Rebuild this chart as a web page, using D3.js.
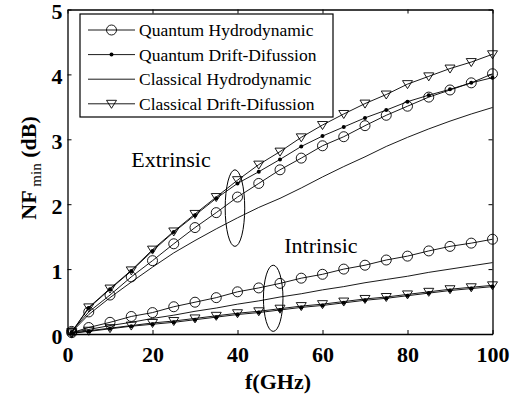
<!DOCTYPE html>
<html lang="en">
  <head>
    <meta charset="UTF-8" />
    <title>NFmin vs frequency</title>
    <script src="https://cdn.jsdelivr.net/npm/d3@7"></script>
    <style>
      body { margin: 0; background: #fff; }
      svg text { font-family: "Liberation Serif", "Times New Roman", "DejaVu Serif", serif !important; fill: #000; }
    </style>
  </head>
  <body>
    <script>
      // frequencies (GHz)
      const freq = [1, 5, 10, 15, 20, 25, 30, 35, 40, 45, 50, 55, 60, 65, 70, 75, 80, 85, 90, 95, 100];

      // extrinsic NFmin (dB)
      const qhExt  = [0.04, 0.34, 0.60, 0.88, 1.13, 1.39, 1.64, 1.87, 2.11, 2.32, 2.53, 2.71, 2.90, 3.04, 3.21, 3.37, 3.51, 3.65, 3.76, 3.87, 4.01];
      const qddExt = [0.03, 0.40, 0.69, 0.97, 1.28, 1.57, 1.83, 2.09, 2.32, 2.50, 2.69, 2.89, 3.05, 3.19, 3.33, 3.45, 3.58, 3.68, 3.77, 3.87, 3.95];
      const chExt  = [0.03, 0.30, 0.56, 0.80, 1.03, 1.25, 1.44, 1.62, 1.79, 1.95, 2.09, 2.25, 2.42, 2.58, 2.73, 2.89, 3.03, 3.16, 3.28, 3.39, 3.49];
      const cddExt = [0.03, 0.41, 0.70, 0.98, 1.30, 1.58, 1.85, 2.11, 2.37, 2.61, 2.81, 3.03, 3.22, 3.39, 3.55, 3.69, 3.85, 3.97, 4.09, 4.19, 4.31];

      // intrinsic NFmin (dB)
      const qhInt  = [0.02, 0.10, 0.18, 0.27, 0.33, 0.42, 0.49, 0.56, 0.65, 0.71, 0.78, 0.86, 0.92, 1.00, 1.06, 1.14, 1.20, 1.28, 1.35, 1.40, 1.46];
      const qddInt = [0.01, 0.04, 0.08, 0.12, 0.15, 0.18, 0.22, 0.26, 0.30, 0.33, 0.37, 0.41, 0.44, 0.48, 0.52, 0.55, 0.59, 0.63, 0.67, 0.70, 0.73];
      const chInt  = [0.02, 0.07, 0.13, 0.18, 0.24, 0.29, 0.35, 0.40, 0.46, 0.51, 0.57, 0.62, 0.68, 0.73, 0.79, 0.84, 0.89, 0.95, 1.00, 1.05, 1.10];
      const cddInt = [0.01, 0.05, 0.09, 0.13, 0.17, 0.20, 0.24, 0.28, 0.32, 0.35, 0.39, 0.43, 0.46, 0.50, 0.54, 0.57, 0.61, 0.65, 0.69, 0.72, 0.75];

      const seriesNames = ["Quantum Hydrodynamic", "Quantum Drift-Difussion", "Classical Hydrodynamic", "Classical Drift-Difussion"];
      const seriesMarks = ["circle", "dot", "none", "triangle"];

      const xTicks = [0, 20, 40, 60, 80, 100];
      const yTicks = [0, 1, 2, 3, 4, 5];

      // annotation ellipses: [cx GHz, cy dB, rx GHz, ry dB]
      const extEllipse = [39.4, 1.94, 2.3, 0.59];
      const intEllipse = [48.4, 0.55, 2.3, 0.51];
      const labels = [["Extrinsic", 15, 2.58], ["Intrinsic", 51, 1.25]];

      const width = 517, height = 394;
      const margin = { left: 67.5, right: 24.5, top: 9.5, bottom: 60 };

      const svg = d3.select("body").append("svg")
        .attr("width", width)
        .attr("height", height);

      const x = d3.scaleLinear().domain([0, 100]).range([margin.left, width - margin.right]);
      const y = d3.scaleLinear().domain([0, 5]).range([height - margin.bottom, margin.top]);

      const line = d3.line().x(d => x(d[0])).y(d => y(d[1]));

      function drawSeries(vals, mark) {
        const pts = freq.map((f, i) => [f, vals[i]]);
        svg.append("path")
          .attr("d", line(pts))
          .attr("fill", "none")
          .attr("stroke", "#000")
          .attr("stroke-width", 0.9);
        drawMarkers(svg, pts.map(p => [x(p[0]), y(p[1])]), mark);
      }

      function drawMarkers(g, xy, mark) {
        if (mark === "circle") {
          g.selectAll(null).data(xy).enter().append("circle")
            .attr("cx", d => d[0]).attr("cy", d => d[1]).attr("r", 5)
            .attr("fill", "none").attr("stroke", "#000").attr("stroke-width", 0.9);
        } else if (mark === "dot") {
          g.selectAll(null).data(xy).enter().append("circle")
            .attr("cx", d => d[0]).attr("cy", d => d[1]).attr("r", 2)
            .attr("fill", "#000");
        } else if (mark === "triangle") {
          g.selectAll(null).data(xy).enter().append("path")
            .attr("d", d => `M${d[0] - 5},${d[1] - 3.5}L${d[0] + 5},${d[1] - 3.5}L${d[0]},${d[1] + 4.5}Z`)
            .attr("fill", "none").attr("stroke", "#000").attr("stroke-width", 0.9);
        }
      }

      drawSeries(chExt, "none");
      drawSeries(chInt, "none");
      drawSeries(qhExt, "circle");
      drawSeries(qhInt, "circle");
      drawSeries(cddExt, "triangle");
      drawSeries(cddInt, "triangle");
      drawSeries(qddExt, "dot");
      drawSeries(qddInt, "dot");

      // ellipses
      [extEllipse, intEllipse].forEach(e => {
        svg.append("ellipse")
          .attr("cx", x(e[0])).attr("cy", y(e[1]))
          .attr("rx", x(e[0] + e[2]) - x(e[0]))
          .attr("ry", y(0) - y(e[3]))
          .attr("fill", "none").attr("stroke", "#000").attr("stroke-width", 1);
      });

      labels.forEach(l => {
        svg.append("text")
          .attr("x", x(l[1])).attr("y", y(l[2]))
          .attr("font-size", 22)
          .text(l[0]);
      });

      // axes (ticks pointing inward, box all round)
      const tickFont = g => g.selectAll("text")
        .attr("font-weight", "bold")
        .attr("font-size", 22);

      svg.append("g")
        .attr("transform", `translate(0,${y(0)})`)
        .call(d3.axisBottom(x).tickValues(xTicks).tickFormat(d3.format("d"))
          .tickSizeInner(-4).tickSizeOuter(0).tickPadding(12))
        .call(tickFont);
      svg.append("g")
        .attr("transform", `translate(0,${y(5)})`)
        .call(d3.axisTop(x).tickValues(xTicks).tickSizeInner(-4).tickSizeOuter(0).tickFormat(""));
      svg.append("g")
        .attr("transform", `translate(${x(0)},0)`)
        .call(d3.axisLeft(y).tickValues(yTicks).tickFormat(d3.format("d"))
          .tickSizeInner(-4).tickSizeOuter(0).tickPadding(5))
        .call(tickFont)
        .call(g => g.selectAll("text").attr("dy", "0.42em"));
      svg.append("g")
        .attr("transform", `translate(${x(100)},0)`)
        .call(d3.axisRight(y).tickValues(yTicks).tickSizeInner(-4).tickSizeOuter(0).tickFormat(""));

      svg.selectAll(".domain").attr("stroke", "#000").attr("stroke-width", 1.3);
      svg.selectAll(".tick line").attr("stroke", "#000");

      // axis titles
      svg.append("text")
        .attr("x", 278)
        .attr("y", 389)
        .attr("text-anchor", "middle")
        .attr("font-weight", "bold")
        .attr("font-size", 22)
        .text("f(GHz)");

      const yl = svg.append("text")
        .attr("transform", `translate(36,168) rotate(-90)`)
        .attr("text-anchor", "middle")
        .attr("font-size", 22);
      yl.append("tspan").attr("font-weight", "bold").text("NF");
      yl.append("tspan").attr("font-size", 15).attr("dy", 5).text(" min");
      yl.append("tspan").attr("font-weight", "bold").attr("dy", -5).text(" (dB)");

      // legend
      const lg = svg.append("g");
      lg.append("rect")
        .attr("x", 80).attr("y", 14).attr("width", 253).attr("height", 103)
        .attr("fill", "#fff").attr("stroke", "#000").attr("stroke-width", 1.2);
      seriesNames.forEach((name, i) => {
        const cy = 30 + i * 24.6;
        lg.append("line")
          .attr("x1", 88).attr("x2", 135).attr("y1", cy).attr("y2", cy)
          .attr("stroke", "#000").attr("stroke-width", 0.9);
        drawMarkers(lg, [[111.5, cy]], seriesMarks[i]);
        lg.append("text")
          .attr("x", 139).attr("y", cy + 6)
          .attr("font-size", 17.5)
          .text(name);
      });
    </script>
  </body>
</html>
